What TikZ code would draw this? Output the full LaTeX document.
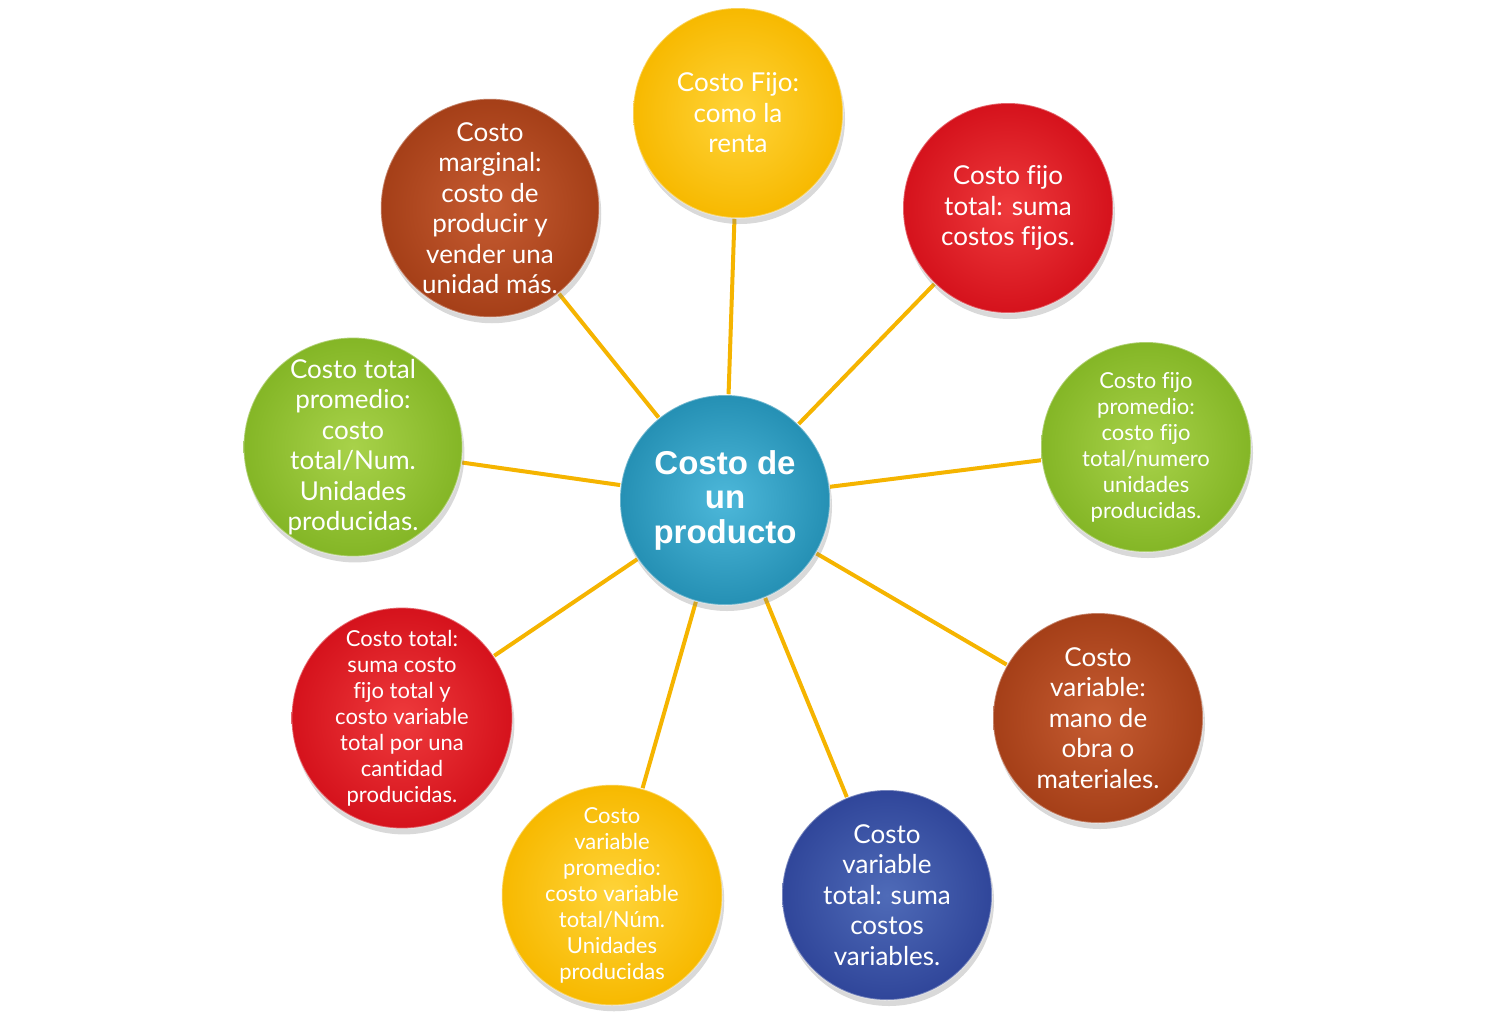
\documentclass[tikz,border=0pt]{standalone}
\usepackage{fontspec}
\setmainfont{Lato}[Ligatures=CommonOff]
\newfontfamily\centerfont{Liberation Sans}
\usetikzlibrary{shadows,backgrounds}
\definecolor{cyel}{HTML}{F7B900}
\definecolor{cyelin}{HTML}{FFD43A}
\definecolor{cred}{HTML}{D5121C}
\definecolor{credin}{HTML}{EE3A3C}
\definecolor{cbrn}{HTML}{A53F18}
\definecolor{cbrnin}{HTML}{C65C32}
\definecolor{cgrn}{HTML}{84B626}
\definecolor{cgrnin}{HTML}{A8D24A}
\definecolor{cblu}{HTML}{30469A}
\definecolor{cbluin}{HTML}{4F6BB8}
\definecolor{cteal}{HTML}{2590B4}
\definecolor{ctealin}{HTML}{4DB8DA}
\definecolor{cline}{HTML}{F5B400}
\tikzset{
  ball/.style={circle, minimum size=105pt, inner sep=0pt, align=center, text=white,
    font=\fontsize{13}{15.25}\selectfont,
    draw=white, draw opacity=0.35, line width=0.8pt,
    drop shadow={opacity=0.3, shadow xshift=1pt, shadow yshift=-3pt}},
  small/.style={font=\fontsize{11}{13}\selectfont},
  fillc/.style 2 args={shading=radial, inner color=#1, outer color=#2},
  spoke/.style={draw=cline, line width=2pt}
}
\begin{document}
\begin{tikzpicture}[x=0.5pt,y=-0.5pt]
\useasboundingbox (0,0) rectangle (1502,1018);
\node[ball, fillc={ctealin}{cteal}, font=\centerfont\bfseries\fontsize{16.5}{17.25}\selectfont] (c) at (725,500) {\raisebox{-1.5pt}{Costo de}\\\raisebox{-1.5pt}{un}\\\raisebox{-1.5pt}{producto}};
\node[ball, fillc={cyelin}{cyel}] (n1) at (738,113) {Costo Fijo:\\como la\\renta};
\node[ball, fillc={credin}{cred}] (n2) at (1008,208) {Costo fijo\\total: suma\\costos fijos.};
\node[ball, fillc={cgrnin}{cgrn}, small] (n3) at (1146,447) {Costo fijo\\promedio:\\costo fijo\\total/numero\\unidades\\producidas.};
\node[ball, fillc={cbrnin}{cbrn}] (n4) at (1098,718) {Costo\\variable:\\mano de\\obra o\\materiales.};
\node[ball, fillc={cbluin}{cblu}] (n5) at (887,895) {Costo\\variable\\total: suma\\costos\\variables.};
\node[ball, fillc={cyelin}{cyel}, small] (n6) at (612,895) {Costo\\variable\\promedio:\\costo variable\\total/Núm.\\Unidades\\producidas};
\node[ball, fillc={credin}{cred}, small] (n7) at (402,718) {Costo total:\\suma costo\\fijo total y\\costo variable\\total por una\\cantidad\\producidas.};
\node[ball, fillc={cgrnin}{cgrn}] (n8) at (353,447) {Costo total\\promedio:\\costo\\total/Num.\\Unidades\\producidas.};
\node[ball, fillc={cbrnin}{cbrn}] (n9) at (490,208) {Costo\\marginal:\\costo de\\producir y\\vender una\\unidad más.};
\begin{pgfonlayer}{background}
\foreach \n in {n1,n2,n3,n4,n5,n6,n7,n8,n9}
  \draw[spoke] (c) -- (\n);
\end{pgfonlayer}
\end{tikzpicture}
\end{document}
